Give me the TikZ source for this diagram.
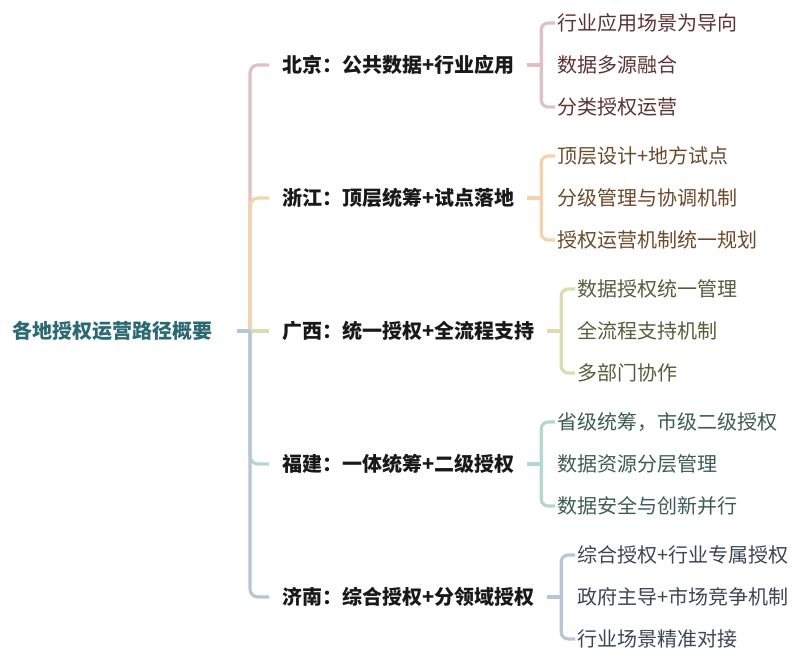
\documentclass[tikz,border=0pt]{standalone}
\usepackage{fontspec}
\setmainfont{Noto Sans CJK SC}
\usetikzlibrary{positioning}
\definecolor{roottext}{HTML}{2B6A73}
\definecolor{bjline}{HTML}{E0C0C0}
\definecolor{zjline}{HTML}{F2D3AE}
\definecolor{gxline}{HTML}{D9DDB1}
\definecolor{fjline}{HTML}{B3D9CC}
\definecolor{jnline}{HTML}{B9C5D6}
\definecolor{bjtext}{HTML}{5B3333}
\definecolor{zjtext}{HTML}{6B4A2A}
\definecolor{gxtext}{HTML}{565D3B}
\definecolor{fjtext}{HTML}{3E5B50}
\definecolor{jntext}{HTML}{3D4555}
\begin{document}
\begin{tikzpicture}[x=1pt,y=-1pt,
    every node/.style={inner sep=0pt},
    root/.style={text=roottext,font=\fontsize{20}{24}\selectfont\bfseries},
    city/.style={outer xsep=13pt,anchor=west,text=black!90,font=\fontsize{20}{24}\selectfont\bfseries},
    leaf/.style={outer xsep=2pt,font=\fontsize{20}{24}\selectfont},
    link/.style={line width=3.2pt,rounded corners=8pt}]
\useasboundingbox (0,0) rectangle (800,663);
\coordinate (hub) at (250,331);
\node[root,anchor=west] (root) at (12,331) {各地授权运营路径概要};
% regions
\node[city] (bj) at (269,65) {北京：公共数据+行业应用};
\node[city] (zj) at (269,198) {浙江：顶层统筹+试点落地};
\node[city] (gx) at (269,331) {广西：统一授权+全流程支持};
\node[city] (fj) at (269,464) {福建：一体统筹+二级授权};
\node[city] (jn) at (269,597) {济南：综合授权+分领域授权};
% trunk
\draw[link,bjline] (hub) |- (bj.west);
\draw[link,zjline] (hub) |- (zj.west);
\draw[link,jnline] ([xshift=25pt]root.east) -- (hub);
\draw[link,gxline] (hub) -- (gx.west);
\draw[link,fjline] (hub) |- (fj.west);
\draw[link,jnline] (hub) |- (jn.west);
% leaves
\node[leaf,text=bjtext,right=28pt of bj,yshift=42pt] (bj1) {行业应用场景为导向};
\node[leaf,text=bjtext,right=28pt of bj] (bj2) {数据多源融合};
\node[leaf,text=bjtext,right=28pt of bj,yshift=-42pt] (bj3) {分类授权运营};
\node[leaf,text=zjtext,right=28pt of zj,yshift=42pt] (zj1) {顶层设计+地方试点};
\node[leaf,text=zjtext,right=28pt of zj] (zj2) {分级管理与协调机制};
\node[leaf,text=zjtext,right=28pt of zj,yshift=-42pt] (zj3) {授权运营机制统一规划};
\node[leaf,text=gxtext,right=28pt of gx,yshift=42pt] (gx1) {数据授权统一管理};
\node[leaf,text=gxtext,right=28pt of gx] (gx2) {全流程支持机制};
\node[leaf,text=gxtext,right=28pt of gx,yshift=-42pt] (gx3) {多部门协作};
\node[leaf,text=fjtext,right=28pt of fj,yshift=42pt] (fj1) {省级统筹，市级二级授权};
\node[leaf,text=fjtext,right=28pt of fj] (fj2) {数据资源分层管理};
\node[leaf,text=fjtext,right=28pt of fj,yshift=-42pt] (fj3) {数据安全与创新并行};
\node[leaf,text=jntext,right=28pt of jn,yshift=42pt] (jn1) {综合授权+行业专属授权};
\node[leaf,text=jntext,right=28pt of jn] (jn2) {政府主导+市场竞争机制};
\node[leaf,text=jntext,right=28pt of jn,yshift=-42pt] (jn3) {行业场景精准对接};
% forks
\draw[link,bjline] (bj.east) -- ++(14,0) coordinate (bjf);
\draw[link,bjline,rounded corners=7pt] (bj1.west) -| (bjf) |- (bj3.west);
\draw[link,zjline] (zj.east) -- ++(14,0) coordinate (zjf);
\draw[link,zjline,rounded corners=7pt] (zj1.west) -| (zjf) |- (zj3.west);
\draw[link,gxline] (gx.east) -- ++(14,0) coordinate (gxf);
\draw[link,gxline,rounded corners=7pt] (gx1.west) -| (gxf) |- (gx3.west);
\draw[link,fjline] (fj.east) -- ++(14,0) coordinate (fjf);
\draw[link,fjline,rounded corners=7pt] (fj1.west) -| (fjf) |- (fj3.west);
\draw[link,jnline] (jn.east) -- ++(14,0) coordinate (jnf);
\draw[link,jnline,rounded corners=7pt] (jn1.west) -| (jnf) |- (jn3.west);
\end{tikzpicture}
\end{document}
